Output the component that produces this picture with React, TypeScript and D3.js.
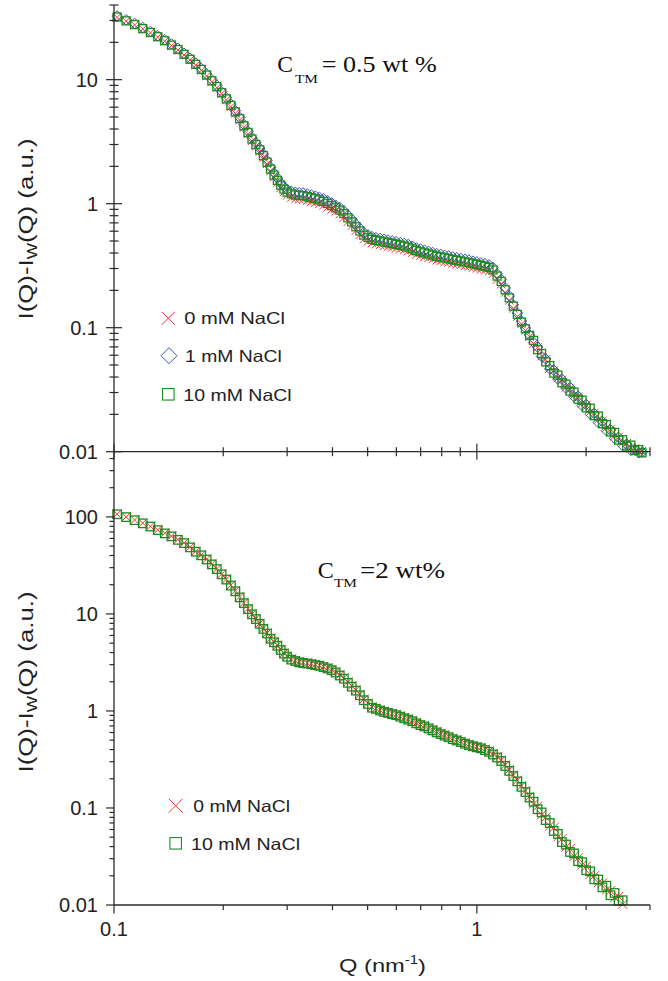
import React from "react";
import * as d3 from "d3";

// ---------- data ----------
const Q_TOP = [
  0.102, 0.108, 0.114, 0.120, 0.126, 0.132, 0.138, 0.144, 0.150, 0.156,
  0.162, 0.168, 0.174, 0.180, 0.186, 0.192, 0.198, 0.204, 0.210, 0.216,
  0.222, 0.228, 0.234, 0.240, 0.246, 0.252, 0.258, 0.264, 0.270, 0.276,
  0.282, 0.288, 0.294, 0.300,
  0.308, 0.316, 0.324, 0.332, 0.341, 0.350, 0.359, 0.368, 0.378, 0.388,
  0.398, 0.408, 0.419, 0.430, 0.441, 0.452, 0.464, 0.476, 0.488, 0.501,
  0.514, 0.527, 0.541, 0.555, 0.569, 0.584, 0.599, 0.615, 0.631, 0.647,
  0.664, 0.681, 0.699, 0.717, 0.736, 0.755, 0.775, 0.795, 0.815, 0.836,
  0.858, 0.880, 0.903, 0.927, 0.951, 0.976, 1.000, 1.026, 1.053, 1.080,
  1.108, 1.137, 1.167, 1.197, 1.228, 1.260, 1.293, 1.327, 1.361, 1.397,
  1.433, 1.470, 1.508, 1.548, 1.588, 1.629, 1.672, 1.715, 1.760, 1.806,
  1.853, 1.901, 1.950, 2.001, 2.053, 2.107, 2.161, 2.218, 2.275, 2.335,
  2.396, 2.458, 2.522, 2.588, 2.655, 2.724, 2.795, 2.850,
];

const TOP_0MM = [
  31.8, 29.6, 27.6, 25.6, 23.8, 22.0, 20.4, 18.8, 17.3, 15.8,
  14.4, 13.1, 11.9, 10.7, 9.6, 8.6, 7.7, 6.85, 6.05, 5.35,
  4.72, 4.12, 3.63, 3.21, 2.90, 2.63, 2.36, 2.09, 1.83, 1.63,
  1.47, 1.34, 1.24, 1.17,
  1.12, 1.09, 1.085, 1.079, 1.058, 1.039, 1.019, 0.996, 0.972, 0.934,
  0.897, 0.861, 0.825, 0.774, 0.715, 0.663, 0.606, 0.561, 0.519, 0.496,
  0.480, 0.471, 0.465, 0.458, 0.451, 0.444, 0.437, 0.430, 0.423, 0.415,
  0.402, 0.389, 0.381, 0.373, 0.365, 0.358, 0.350, 0.345, 0.339, 0.335,
  0.329, 0.325, 0.320, 0.315, 0.311, 0.305, 0.300, 0.295, 0.290, 0.285,
  0.272, 0.245, 0.224, 0.192, 0.166, 0.143, 0.123, 0.107, 0.095, 0.0845,
  0.0745, 0.0695, 0.0590, 0.0555, 0.0470, 0.0450, 0.0392, 0.0380, 0.0330, 0.0322,
  0.0285, 0.0278, 0.0245, 0.0238, 0.0210, 0.0205, 0.0182, 0.0177, 0.0156, 0.0152,
  0.0134, 0.0131, 0.0118, 0.0117, 0.0107, 0.0106, 0.0100, 0.0101,
];

const TOP_1MM = [
  32.6, 30.4, 28.4, 26.3, 24.5, 22.6, 21.0, 19.4, 17.9, 16.3,
  14.9, 13.6, 12.3, 11.1, 10.0, 9.0, 8.0, 7.15, 6.35, 5.62,
  4.96, 4.35, 3.84, 3.41, 3.09, 2.81, 2.52, 2.24, 1.97, 1.77,
  1.61, 1.47, 1.37, 1.30,
  1.26, 1.234, 1.225, 1.218, 1.195, 1.173, 1.151, 1.125, 1.097, 1.054,
  1.012, 0.972, 0.931, 0.874, 0.807, 0.749, 0.685, 0.633, 0.586, 0.560,
  0.542, 0.531, 0.525, 0.517, 0.509, 0.501, 0.494, 0.485, 0.478, 0.468,
  0.454, 0.439, 0.431, 0.421, 0.413, 0.404, 0.395, 0.390, 0.383, 0.378,
  0.372, 0.366, 0.361, 0.356, 0.351, 0.344, 0.339, 0.333, 0.328, 0.321,
  0.305, 0.272, 0.245, 0.209, 0.180, 0.153, 0.131, 0.113, 0.0995, 0.0875,
  0.0760, 0.0700, 0.0585, 0.0560, 0.0465, 0.0455, 0.0385, 0.0385, 0.0325, 0.0330,
  0.0278, 0.0280, 0.0236, 0.0240, 0.0201, 0.0203, 0.0172, 0.0175, 0.0148, 0.0150,
  0.0128, 0.0130, 0.0112, 0.0115, 0.0103, 0.0105, 0.0098, 0.0099,
];

const TOP_10MM = [
  32.0, 29.8, 27.8, 25.8, 24.0, 22.2, 20.6, 19.0, 17.5, 16.0,
  14.6, 13.3, 12.1, 10.9, 9.8, 8.8, 7.85, 7.0, 6.2, 5.5,
  4.85, 4.25, 3.75, 3.32, 3.0, 2.72, 2.44, 2.16, 1.90, 1.70,
  1.54, 1.41, 1.31, 1.24,
  1.20, 1.175, 1.167, 1.16, 1.138, 1.117, 1.096, 1.071, 1.045, 1.004,
  0.964, 0.926, 0.887, 0.832, 0.769, 0.713, 0.652, 0.603, 0.558, 0.533,
  0.516, 0.506, 0.500, 0.492, 0.485, 0.477, 0.470, 0.462, 0.455, 0.446,
  0.432, 0.418, 0.410, 0.401, 0.393, 0.385, 0.376, 0.371, 0.365, 0.360,
  0.354, 0.349, 0.344, 0.339, 0.334, 0.328, 0.323, 0.317, 0.312, 0.306,
  0.292, 0.261, 0.236, 0.202, 0.174, 0.149, 0.128, 0.111, 0.098, 0.0867,
  0.0790, 0.0665, 0.0620, 0.0530, 0.0495, 0.0430, 0.0415, 0.0360, 0.0350, 0.0308,
  0.0302, 0.0265, 0.0260, 0.0226, 0.0224, 0.0195, 0.0194, 0.0168, 0.0166, 0.0144,
  0.0143, 0.0124, 0.0125, 0.0111, 0.0113, 0.0102, 0.0104, 0.0098,
];

const BOT_0MM = [
  107, 100, 93, 86.3, 80, 73.5, 68, 63.4, 58.4, 54,
  48.8, 44.1, 40.5, 36.7, 32.7, 29.2, 25.8, 22.8, 19.8, 17.3,
  15.0, 13.0, 11.3, 10.0, 8.95, 8.0, 7.1, 6.35, 5.62, 5.16,
  4.75, 4.30, 3.94, 3.66,
  3.42, 3.31, 3.21, 3.16, 3.12, 3.07, 3.01, 2.96, 2.87, 2.78,
  2.67, 2.53, 2.36, 2.19, 1.99, 1.81, 1.65, 1.48, 1.32, 1.20,
  1.10, 1.065, 1.025, 0.99, 0.966, 0.940, 0.918, 0.885, 0.853, 0.825,
  0.795, 0.757, 0.726, 0.703, 0.670, 0.640, 0.611, 0.587, 0.565, 0.545,
  0.520, 0.504, 0.486, 0.467, 0.452, 0.439, 0.429, 0.419, 0.402, 0.386,
  0.363, 0.338, 0.312, 0.277, 0.247, 0.218, 0.193, 0.169, 0.150, 0.131,
  0.110, 0.104, 0.0850, 0.0800, 0.0655, 0.0625, 0.0505, 0.0480, 0.0395, 0.0380,
  0.0318, 0.0305, 0.0258, 0.0250, 0.0207, 0.0200, 0.0170, 0.0168, 0.0143, 0.0140,
  0.0119, 0.0122, 0.0102,
];

const BOT_10MM = [
  106.5, 99.5, 92.5, 85.8, 79.6, 73.0, 67.6, 63.0, 58.0, 53.7,
  48.5, 43.8, 40.2, 36.4, 32.4, 29.0, 25.6, 22.6, 19.6, 17.1,
  14.8, 12.9, 11.2, 9.9, 8.85, 7.9, 7.0, 6.28, 5.55, 5.10,
  4.70, 4.25, 3.90, 3.62,
  3.38, 3.27, 3.17, 3.12, 3.08, 3.03, 2.97, 2.92, 2.83, 2.74,
  2.63, 2.49, 2.32, 2.15, 1.95, 1.78, 1.62, 1.45, 1.29, 1.18,
  1.08, 1.05, 1.01, 0.977, 0.953, 0.927, 0.906, 0.873, 0.841, 0.813,
  0.783, 0.745, 0.715, 0.692, 0.660, 0.630, 0.601, 0.578, 0.556, 0.536,
  0.512, 0.496, 0.478, 0.460, 0.445, 0.432, 0.422, 0.412, 0.395, 0.379,
  0.356, 0.331, 0.305, 0.271, 0.241, 0.213, 0.188, 0.165, 0.146, 0.128,
  0.116, 0.0970, 0.0900, 0.0750, 0.0700, 0.0580, 0.0540, 0.0445, 0.0420, 0.0352,
  0.0340, 0.0283, 0.0276, 0.0228, 0.0222, 0.0184, 0.0183, 0.0152, 0.0158, 0.0126,
  0.0133, 0.0110, 0.0112,
];

const Q_BOTTOM = Q_TOP.slice(0, BOT_10MM.length);

const X_DOMAIN = [0.1, 3];
const TOP_Y_DOMAIN = [0.01, 40];
const BOT_Y_DOMAIN = [0.01, 470];
const X_TICK_LABELS = ["0.1", "1"];
const TOP_Y_TICK_LABELS = ["0.01", "0.1", "1", "10"];
const BOT_Y_TICK_LABELS = ["0.01", "0.1", "1", "10", "100"];

// ---------- styling ----------
const RED = "#ee3535";
const BLUE = "#3a4db5";
const GREEN = "#1f8a1f";
const AXIS = "#2a2a2a";
const SANS = "'Liberation Sans', Arial, Helvetica, sans-serif";
const SERIF = "'Liberation Serif', 'Times New Roman', serif";

const X0 = 114, X1 = 650;
const TOP_Y0 = 451.7, TOP_Y1 = 5;
const BOT_Y0 = 905, BOT_Y1 = 451.7;

const xScale = d3.scaleLog().domain(X_DOMAIN).range([X0, X1]);
const yTop = d3.scaleLog().domain(TOP_Y_DOMAIN).range([TOP_Y0, TOP_Y1]);
const yBot = d3.scaleLog().domain(BOT_Y_DOMAIN).range([BOT_Y0, BOT_Y1]);

const isMajor = (v: number) => Math.abs(Math.log10(v) - Math.round(Math.log10(v))) < 1e-6;

function Cross({ x, y, r, color, w = 1 }: any) {
  return (
    <path d={`M${x - r},${y - r}L${x + r},${y + r}M${x - r},${y + r}L${x + r},${y - r}`}
      stroke={color} strokeWidth={w} fill="none" />
  );
}
function Diamond({ x, y, r, color, w = 1 }: any) {
  return (
    <path d={`M${x},${y - r}L${x + r},${y}L${x},${y + r}L${x - r},${y}Z`}
      stroke={color} strokeWidth={w} fill="none" />
  );
}
function Square({ x, y, s, color, w = 1.3 }: any) {
  return <rect x={x - s / 2} y={y - s / 2} width={s} height={s} stroke={color} strokeWidth={w} fill="none" />;
}

function series(qs: number[], vals: number[], y: any) {
  const n = Math.min(qs.length, vals.length);
  const out: { x: number; y: number }[] = [];
  for (let i = 0; i < n; i++) out.push({ x: xScale(qs[i]), y: y(vals[i]) });
  return out;
}

export default function App() {
  const xTicks = xScale.ticks();
  const topTicks = yTop.ticks();
  const botTicks = yBot.ticks();

  const top0 = series(Q_TOP, TOP_0MM, yTop);
  const top1 = series(Q_TOP, TOP_1MM, yTop);
  const top10 = series(Q_TOP, TOP_10MM, yTop);
  const bot0 = series(Q_BOTTOM, BOT_0MM, yBot);
  const bot10 = series(Q_BOTTOM, BOT_10MM, yBot);

  return (
    <svg width={668} height={981} style={{ position: "absolute", left: 0, top: 0, background: "#fff" }}
      fontFamily={SANS}>
      <rect x={0} y={0} width={668} height={981} fill="#fff" />

      {/* data: top */}
      <g>
        {top0.map((p, i) => <Cross key={"t0" + i} x={p.x} y={p.y} r={4.2} color={RED} />)}
        {top1.map((p, i) => <Diamond key={"t1" + i} x={p.x} y={p.y} r={5.3} color={BLUE} />)}
        {top10.map((p, i) => <Square key={"t10" + i} x={p.x} y={p.y} s={8} color={GREEN} />)}
      </g>
      {/* data: bottom */}
      <g>
        {bot0.map((p, i) => <Cross key={"b0" + i} x={p.x} y={p.y} r={4.6} color={RED} />)}
        {bot10.map((p, i) => <Square key={"b10" + i} x={p.x} y={p.y} s={8.5} color={GREEN} />)}
      </g>

      {/* axes lines */}
      <line x1={X0} x2={X0} y1={TOP_Y1} y2={BOT_Y0} stroke={AXIS} strokeWidth={1.3} />
      <line x1={X0} x2={X1} y1={TOP_Y0} y2={TOP_Y0} stroke={AXIS} strokeWidth={1.3} />
      <line x1={X0} x2={X1} y1={BOT_Y0} y2={BOT_Y0} stroke={AXIS} strokeWidth={1.3} />

      {/* top y ticks (crossing) */}
      {topTicks.map((t, i) => {
        const y = yTop(t);
        const m = isMajor(t);
        return <line key={"ty" + i} x1={X0 - (m ? 8 : 4.5)} x2={X0 + (m ? 8 : 4.5)} y1={y} y2={y} stroke={AXIS} strokeWidth={1.2} />;
      })}
      {TOP_Y_TICK_LABELS.map((s) => (
        <text key={"tyl" + s} x={98} y={yTop(+s) + 7} textAnchor="end" fontSize={20} fill="#222">{s}</text>
      ))}

      {/* bottom y ticks (outside) */}
      {botTicks.filter((t) => yBot(t) >= TOP_Y0 + 2).map((t, i) => {
        const y = yBot(t);
        const m = isMajor(t);
        return <line key={"by" + i} x1={X0 - (m ? 8 : 4.5)} x2={X0} y1={y} y2={y} stroke={AXIS} strokeWidth={1.2} />;
      })}
      {BOT_Y_TICK_LABELS.map((s) => (
        <text key={"byl" + s} x={98} y={yBot(+s) + 7} textAnchor="end" fontSize={20} fill="#222">{s}</text>
      ))}

      {/* middle x axis ticks (crossing) */}
      {xTicks.map((t, i) => {
        const x = xScale(t);
        const m = isMajor(t);
        return <line key={"mx" + i} x1={x} x2={x} y1={TOP_Y0 - (m ? 8 : 4.5)} y2={TOP_Y0 + (m ? 8 : 4.5)} stroke={AXIS} strokeWidth={1.2} />;
      })}
      {/* bottom x axis ticks (outside) */}
      {xTicks.map((t, i) => {
        const x = xScale(t);
        const m = isMajor(t);
        return <line key={"bx" + i} x1={x} x2={x} y1={BOT_Y0} y2={BOT_Y0 + (m ? 8.5 : 5)} stroke={AXIS} strokeWidth={1.2} />;
      })}
      {X_TICK_LABELS.map((s) => (
        <text key={"xl" + s} x={xScale(+s)} y={936} textAnchor="middle" fontSize={20} fill="#222">{s}</text>
      ))}

      {/* axis titles */}
      <text x={339} y={972} fontSize={19} textLength={87} lengthAdjust="spacingAndGlyphs" fill="#222">
        Q (nm<tspan dy={-8} fontSize={12}>-1</tspan><tspan dy={8}>)</tspan>
      </text>
      {[229, 682].map((cy) => (
        <text key={"yl" + cy} transform={`translate(32.5,${cy}) rotate(-90)`} textAnchor="middle" fontSize={21}
          textLength={181} lengthAdjust="spacingAndGlyphs" fill="#222">
          I(Q)-I<tspan fontSize={14} dy={4}>W</tspan><tspan dy={-4}>(Q) (a.u.)</tspan>
        </text>
      ))}

      {/* panel titles */}
      <g fontFamily={SERIF} fill="#111">
        <text x={277.3} y={72.3} fontSize={23.5}>C</text>
        <text x={295} y={83} fontSize={13.5} textLength={23} lengthAdjust="spacingAndGlyphs">TM</text>
        <text x={321.7} y={72.3} fontSize={23.5} textLength={115} lengthAdjust="spacingAndGlyphs">= 0.5 wt %</text>

        <text x={317.7} y={577.7} fontSize={24}>C</text>
        <text x={334} y={586.7} fontSize={13.5} textLength={23} lengthAdjust="spacingAndGlyphs">TM</text>
        <text x={360} y={577.7} fontSize={24} textLength={85} lengthAdjust="spacingAndGlyphs">=2 wt%</text>
      </g>

      {/* legends */}
      <g fill="#222" fontSize={16.5}>
        <Cross x={168.3} y={318.3} r={6.5} color={RED} />
        <text x={184.3} y={324.3} textLength={100.7} lengthAdjust="spacingAndGlyphs">0 mM NaCl</text>
        <Diamond x={169} y={355.7} r={8} color={BLUE} />
        <text x={185} y={362.3} textLength={96.7} lengthAdjust="spacingAndGlyphs">1 mM NaCl</text>
        <Square x={168.3} y={394.3} s={11.5} color={GREEN} w={1.1} />
        <text x={183.3} y={401} textLength={108.4} lengthAdjust="spacingAndGlyphs">10 mM NaCl</text>

        <Cross x={175.7} y={805.7} r={7} color={RED} />
        <text x={193.3} y={811.7} textLength={96.7} lengthAdjust="spacingAndGlyphs">0 mM NaCl</text>
        <Square x={175.7} y={843.3} s={11.5} color={GREEN} w={1.1} />
        <text x={191} y={850} textLength={109} lengthAdjust="spacingAndGlyphs">10 mM NaCl</text>
      </g>
    </svg>
  );
}
